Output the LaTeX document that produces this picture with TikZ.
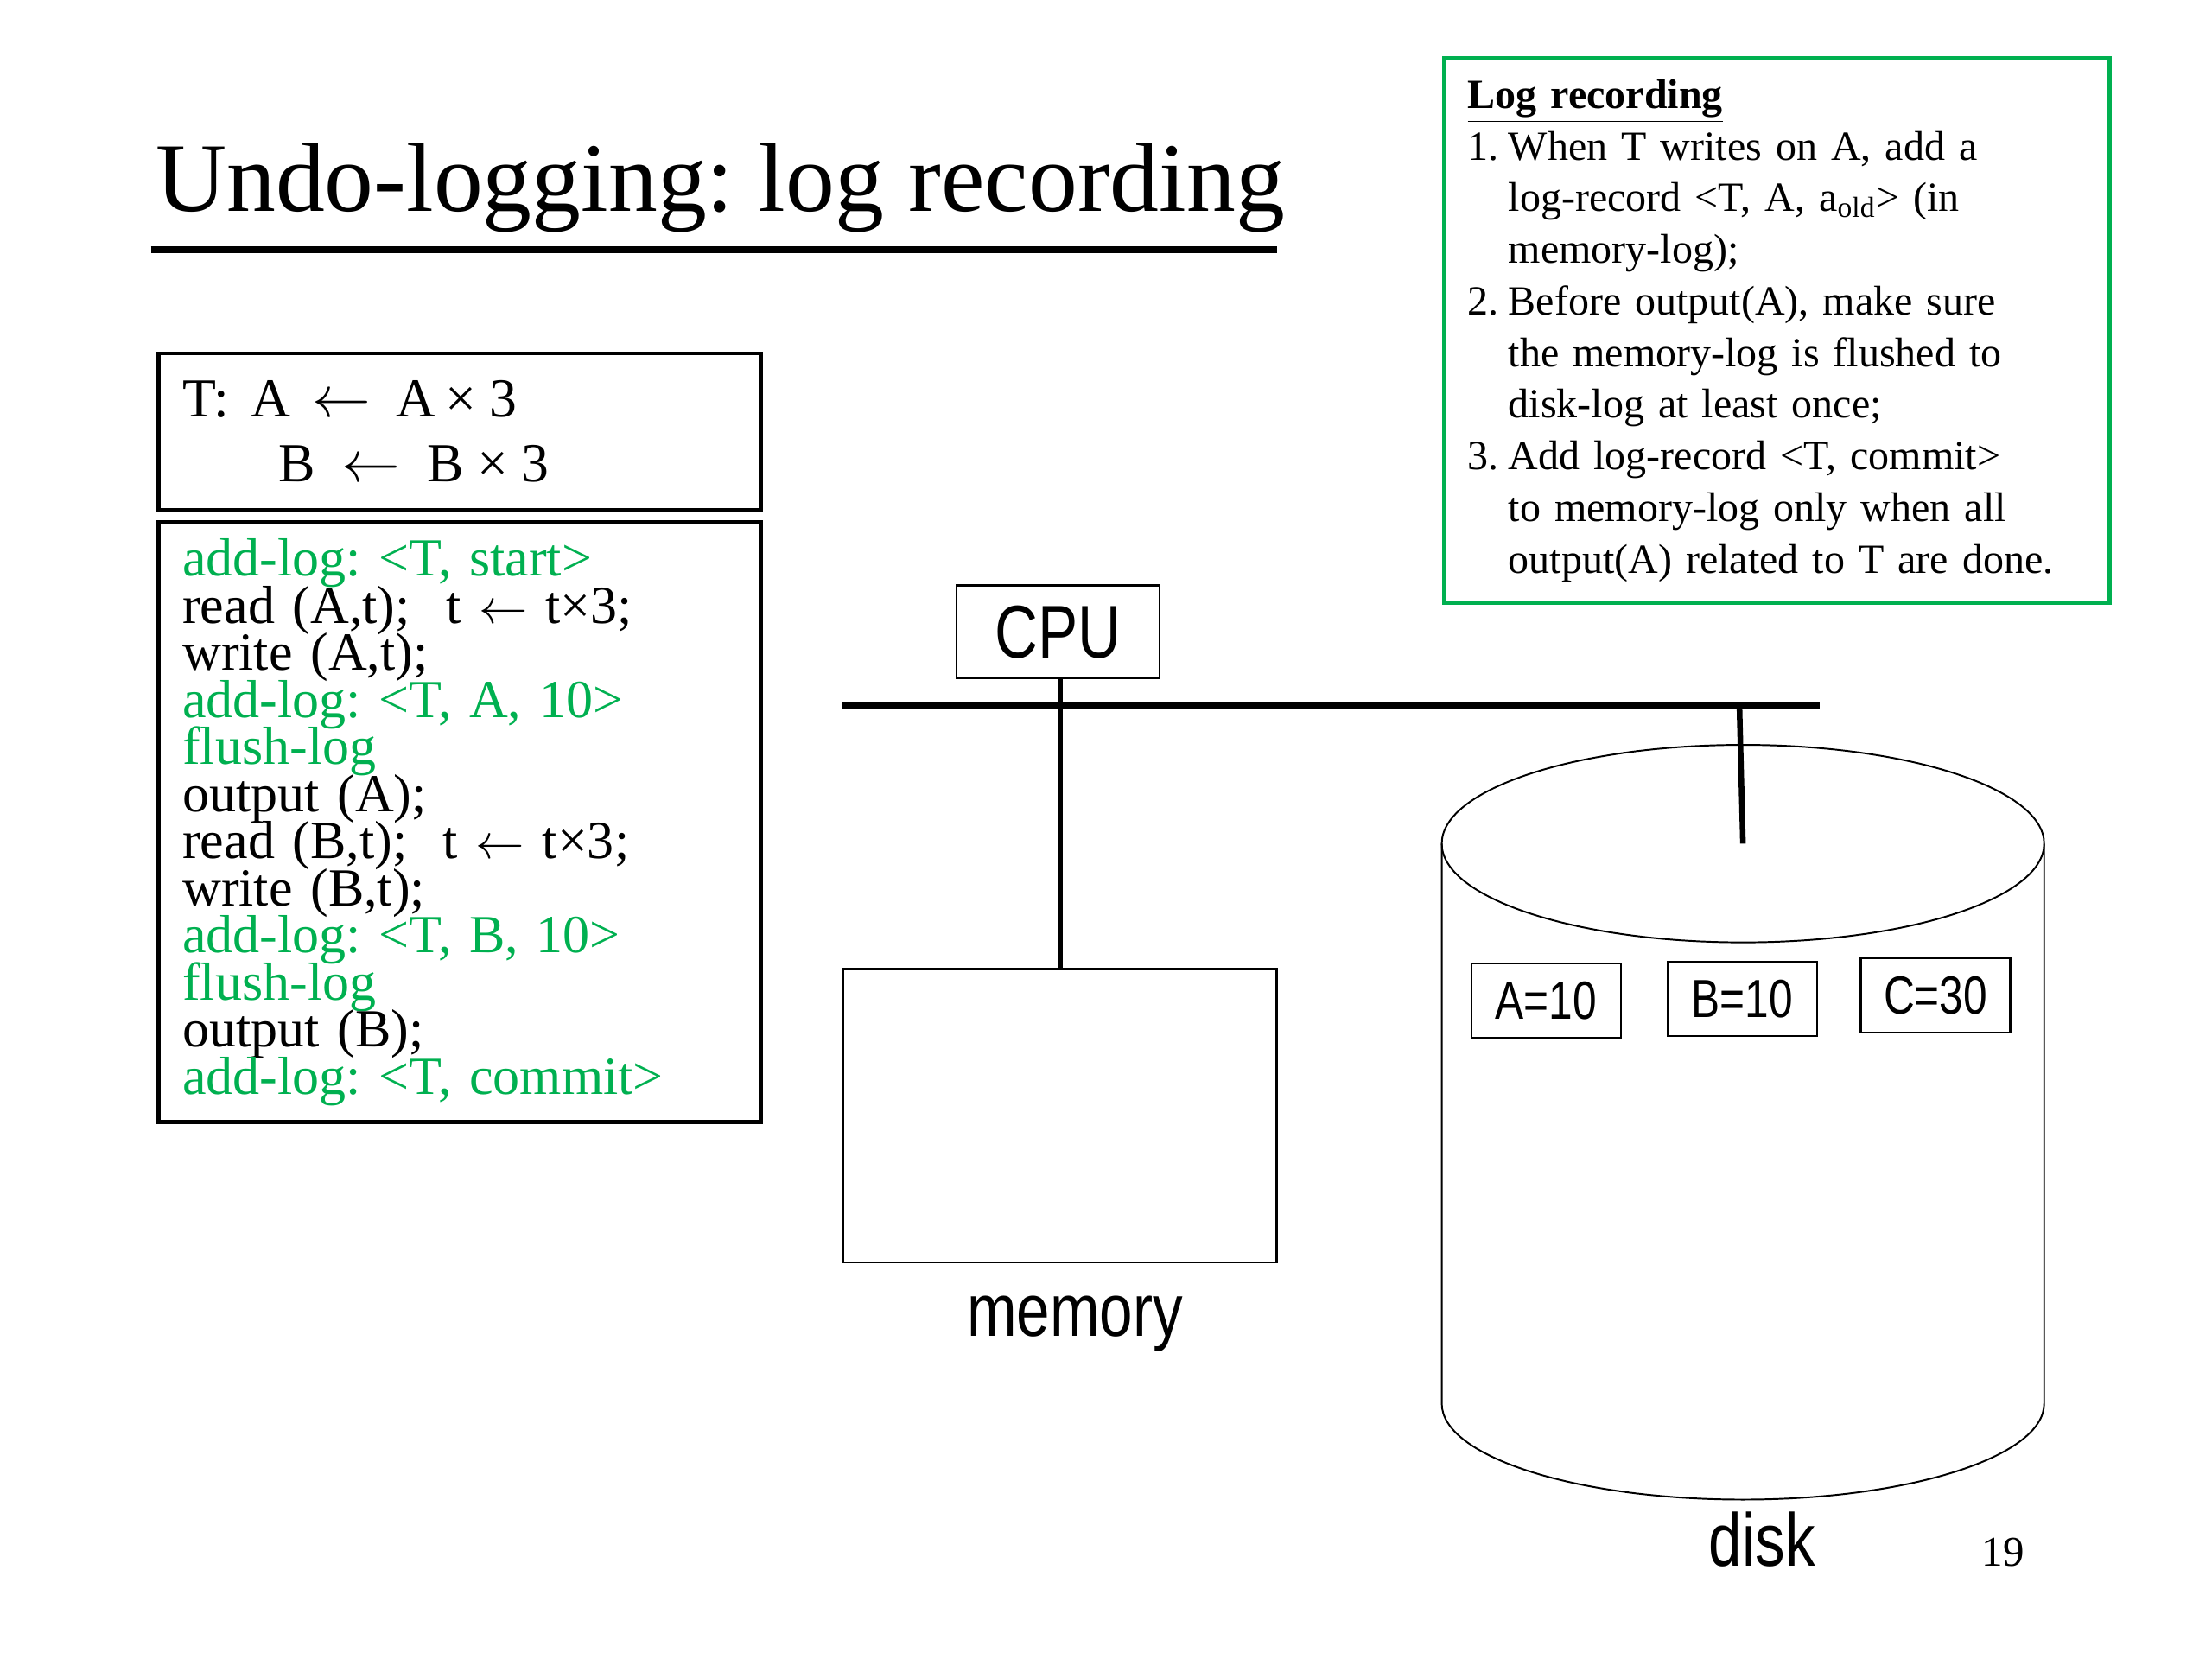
\documentclass[tikz,border=0pt]{standalone}
\usepackage{fontspec}
\setmainfont{Liberation Serif}
\newfontfamily\slidesans[FakeStretch=0.8]{Liberation Sans}
\usepackage{xcolor}
\definecolor{loggreen}{RGB}{0,176,80}
\newcommand{\codefont}{\fontsize{19}{16.7}\selectfont\lineskiplimit=-20pt\relax}
\newcommand{\taskfont}{\fontsize{19.5}{23}\selectfont}
\newcommand{\rulefont}{\fontsize{14.7}{18.3}\selectfont\lineskiplimit=-20pt\relax}
\newcommand{\greenline}[1]{\textcolor{loggreen}{#1}}
\newcommand{\logno}[1]{\makebox[14.5pt][l]{#1}}
\newcommand{\logcont}{\hspace*{14.5pt}}
\newcommand{\getsarrow}{$\leftarrow$}
\tikzset{
    code-box/.style = {draw, line width=1.4pt, rectangle, anchor=north west, align=left, inner xsep=8.5pt, inner ysep=0pt},
    log-box/.style = {draw=loggreen, line width=1.4pt, rectangle, anchor=north west, align=left, inner xsep=8.5pt, inner ysep=0pt, font=\rulefont},
    hw-box/.style = {draw, line width=0.7pt, rectangle, inner sep=0pt, font=\slidesans\fontsize{26.5}{30}\selectfont},
    val-box/.style = {draw, line width=0.7pt, rectangle, minimum width=53pt, minimum height=26.5pt, inner sep=0pt, font=\slidesans\fontsize{19}{22}\selectfont},
    hw-label/.style = {anchor=base, inner sep=0pt, font=\slidesans\fontsize{26.5}{30}\selectfont},
}

\begin{document}
\frenchspacing
\begin{tikzpicture}[x=0.5pt, y=-0.5pt]
\useasboundingbox (0,0) rectangle (1568,1176);

% title
\node[anchor=base west, inner sep=0pt, font=\fontsize{34.8}{40}\selectfont] (title) at (110,150) {Undo-logging: log recording};
\draw[line width=2.6pt] (107,177) -- (905,177);

% the transaction
\node[code-box, text width=196.5pt, minimum height=55.5pt, font=\taskfont] (task) at (111,249)
    {T:\hspace{8pt}A\hspace{7.5pt}\getsarrow\hspace{9pt}A\hspace{3.5pt}×\hspace{4.5pt}3\\
     \hspace*{34pt}B\hspace{9.4pt}\getsarrow\hspace{9.5pt}B\hspace{5pt}×\hspace{4.5pt}3};
\node[code-box, text width=196.5pt, minimum height=212.5pt, font=\codefont] (code) at (111,369) {%
    \greenline{add-log: <T, start>}\\
    read (A,t);~~t \getsarrow{} t×3;\\
    write (A,t);\\
    \greenline{add-log: <T, A, 10>}\\
    \greenline{flush-log}\\
    output (A);\\
    read (B,t);~~t \getsarrow{} t×3;\\
    write (B,t);\\
    \greenline{add-log: <T, B, 10>}\\
    \greenline{flush-log}\\
    output (B);\\
    \greenline{add-log: <T, commit>}};

% the rules
\node[log-box, text width=219pt, minimum height=193pt] (rules) at (1022,40) {%
    \underline{\textbf{Log recording}}\\
    \logno{1.}When T writes on A, add a\\
    \logcont log-record <T, A, a\textsubscript{old}> (in\\
    \logcont memory-log);\\
    \logno{2.}Before output(A), make sure\\
    \logcont the memory-log is flushed to\\
    \logcont disk-log at least once;\\
    \logno{3.}Add log-record <T, commit>\\
    \logcont to memory-log only when all\\
    \logcont output(A) related to T are done.};

% cpu, bus and memory
\node[hw-box, minimum width=72pt, minimum height=33pt] (cpu) at (750,448) {CPU};
\node[hw-box, minimum width=153.5pt, minimum height=104pt] (memory) at (751.5,791) {};
\coordinate (bus-left) at (597,500);
\coordinate (bus-right) at (1290,500);
\draw[line width=2.6pt] (bus-left) -- (bus-right);
\draw[line width=2pt] (memory.north |- cpu.south) -- (memory.north);
\node[hw-label] (memory-label) at (762,947) {memory};

% disk
\coordinate (disk-top) at (1235.5,598);
\coordinate (disk-tap) at (1233,500);
\draw[line width=0.6pt] (disk-top) ellipse [x radius=213.5, y radius=70];
\draw[line width=0.6pt] (1022,598) -- (1022,995) arc [start angle=180, end angle=0, x radius=213.5, y radius=68] -- (1449,598);
\draw[line width=2pt] (disk-tap) -- (disk-top);
\node[val-box] (val-a) at (1096,709.5) {A=10};
\node[val-box] (val-b) at (1235,708) {B=10};
\node[val-box] (val-c) at (1372,705.5) {C=30};
\node[hw-label] (disk-label) at (1249,1110) {disk};

\node[anchor=base, inner sep=0pt, font=\fontsize{15}{18}\selectfont] (page-no) at (1420,1110) {19};
\end{tikzpicture}
\end{document}
